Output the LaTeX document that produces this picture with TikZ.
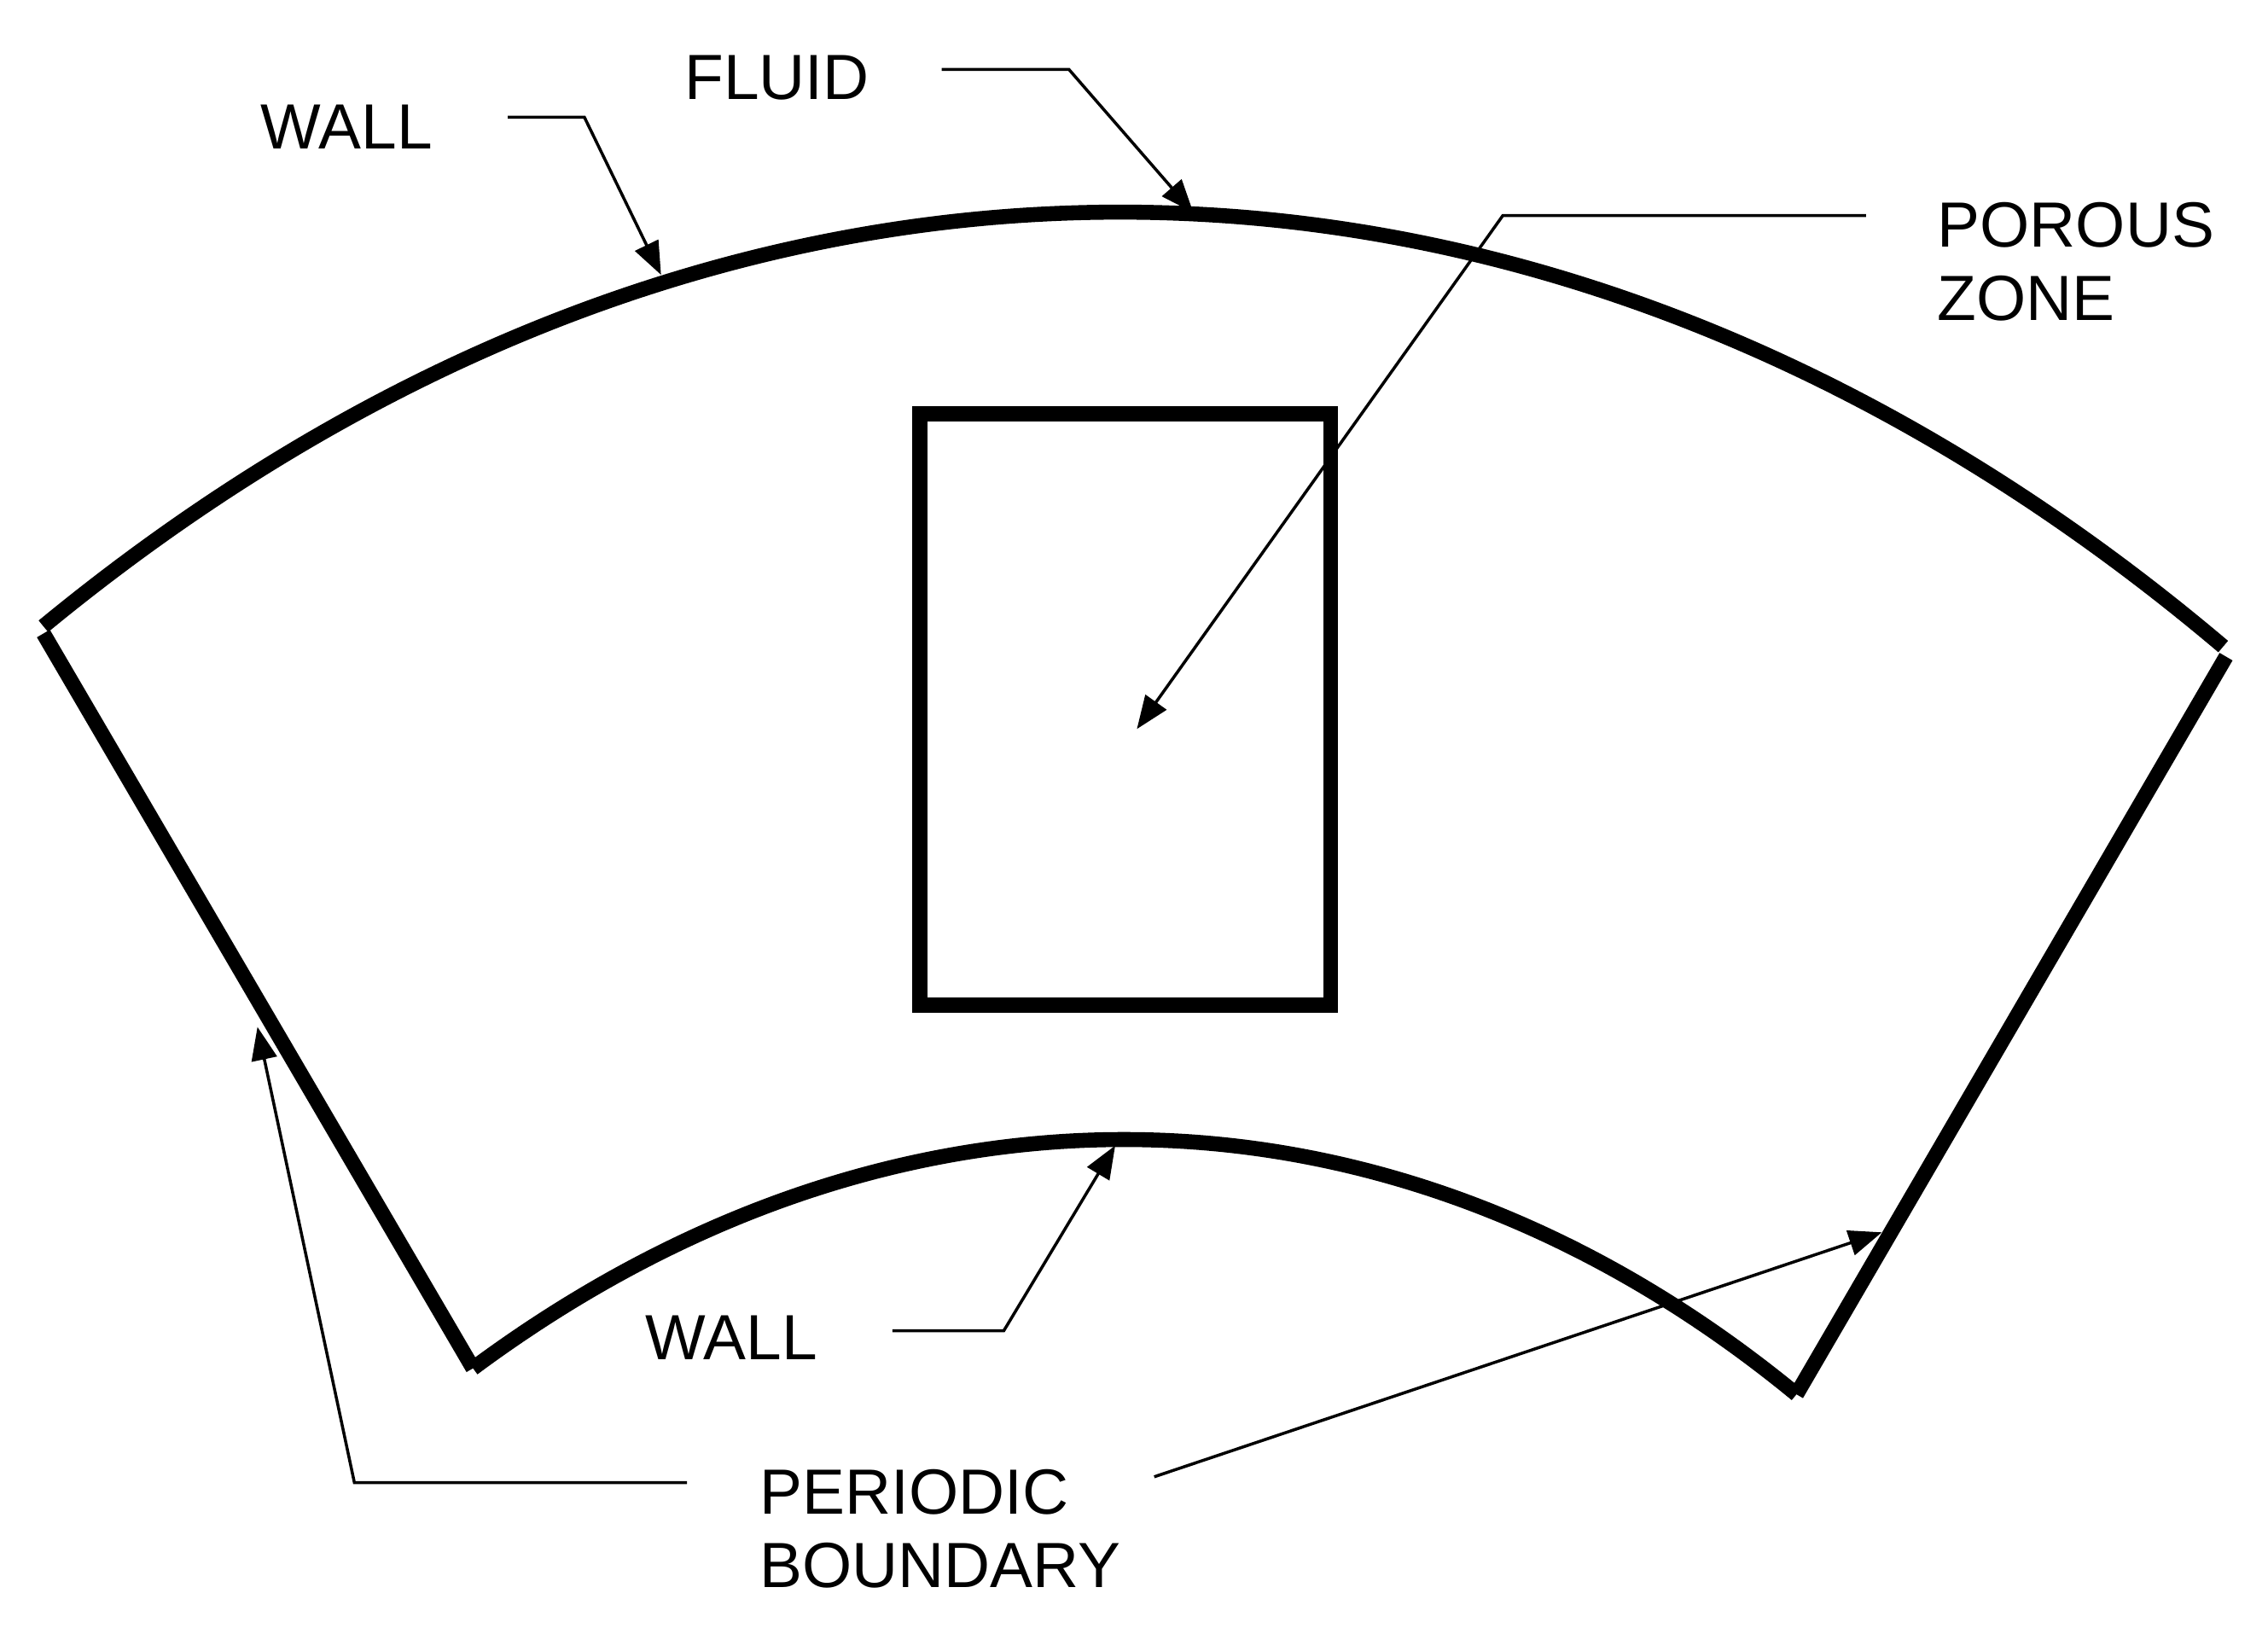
\documentclass[tikz,border=0pt]{standalone}
\usepackage{fontspec}
\setmainfont{Liberation Sans}
\usetikzlibrary{arrows.meta}
\tikzset{
  x=0.01695cm,y=-0.01695cm,
  thick wall/.style={line width=5pt,line join=miter,black},
  leader/.style={line width=1pt,black,-{Triangle[length=11pt,width=8.5pt]}},
  lab/.style={font=\fontsize{21.3}{24.5}\selectfont,inner sep=0pt,anchor=west,align=left},
}
\begin{document}
\begin{tikzpicture}
\useasboundingbox (0,0) rectangle (1568,1125);
% outline
\coordinate (ol) at (30,433);
\coordinate (or) at (1537,447);
\coordinate (il) at (327,946);
\coordinate (ir) at (1242,964);
\coordinate (lw) at (30,438);
\coordinate (rw) at (1539,454);
\draw[thick wall] (ol) .. controls (505,42) and (1075,56) .. (or);
\draw[thick wall] (rw) -- (ir);
\draw[thick wall] (ir) .. controls (963,734.5) and (618,730) .. (il);
\draw[thick wall] (il) -- (lw);
\node[draw,thick wall,inner sep=0pt,minimum width=4.8138cm,minimum height=6.9326cm] (zone) at (778,490.5) {};
% labels
\node[lab] (wallA) at (180,88) {WALL};
\node[lab] (fluid) at (473,54) {FLUID};
\node[lab] (porous) at (1339,181) {POROUS\\ZONE};
\node[lab] (wallB) at (446,925) {WALL};
\node[lab] (periodic) at (525,1057) {PERIODIC\\BOUNDARY};
% leaders
\coordinate (a1) at (351,81); \coordinate (a2) at (404,81); \coordinate (a3) at (457,190);
\draw[leader] (a1) -- (a2) -- (a3);
\coordinate (b1) at (651,48); \coordinate (b2) at (739,48); \coordinate (b3) at (825,147);
\draw[leader] (b1) -- (b2) -- (b3);
\coordinate (c1) at (1290,149); \coordinate (c2) at (1039,149); \coordinate (c3) at (786,504);
\draw[leader] (c1) -- (c2) -- (c3);
\coordinate (d1) at (617,920); \coordinate (d2) at (694,920); \coordinate (d3) at (771,792);
\draw[leader] (d1) -- (d2) -- (d3);
\coordinate (e1) at (475,1025); \coordinate (e2) at (245,1025); \coordinate (e3) at (178,710);
\draw[leader] (e1) -- (e2) -- (e3);
\coordinate (f1) at (798,1021); \coordinate (f3) at (1301,852);
\draw[leader] (f1) -- (f3);
\end{tikzpicture}
\end{document}
